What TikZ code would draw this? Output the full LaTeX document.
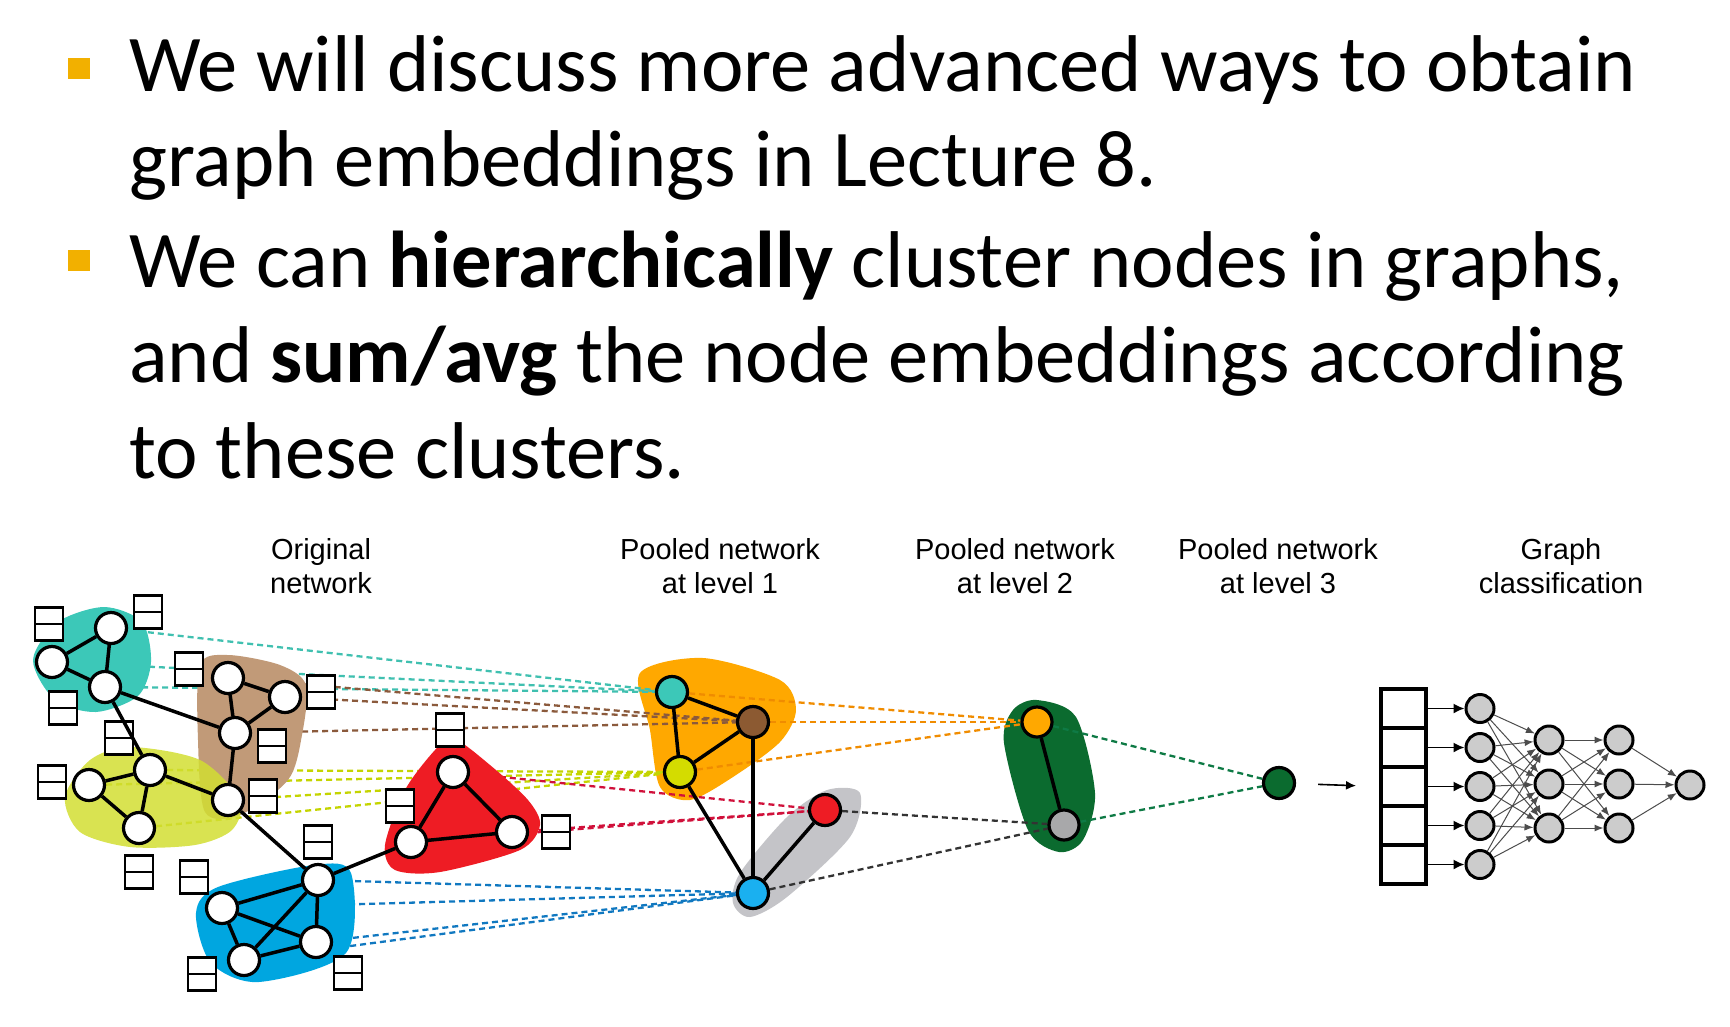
\documentclass[tikz,border=0pt]{standalone}
\usepackage{fontspec}
\setmainfont{Carlito}
\newfontfamily\arialfont{Liberation Sans}
\usetikzlibrary{arrows.meta}

\definecolor{bulletc}{HTML}{F2B000}
\definecolor{tealc}{HTML}{3CC8B8}
\definecolor{tanc}{HTML}{C19A78}
\definecolor{brownc}{HTML}{8C5A32}
\definecolor{limec}{HTML}{D2DE32}
\definecolor{limen}{HTML}{D4DC00}
\definecolor{redc}{HTML}{EE1C24}
\definecolor{bluec}{HTML}{00A6E0}
\definecolor{bluen}{HTML}{1AB0F0}
\definecolor{orangec}{HTML}{FFA800}
\definecolor{grayc}{HTML}{C4C4C8}
\definecolor{grayn}{HTML}{A8A8AA}
\definecolor{greenc}{HTML}{0B6B2F}
\definecolor{dteal}{HTML}{40C0B0}
\definecolor{dbrown}{HTML}{8B5A3C}
\definecolor{dlime}{HTML}{C4D400}
\definecolor{dred}{HTML}{D0103A}
\definecolor{dblue}{HTML}{1078C0}
\definecolor{dorange}{HTML}{F08C00}
\definecolor{ddark}{HTML}{333333}
\definecolor{dgreen}{HTML}{0E7A45}

\pgfdeclarelayer{back}
\pgfdeclarelayer{dash}
\pgfdeclarelayer{blob}
\pgfsetlayers{back,dash,blob,main}

\tikzset{
  vertex/.style={circle, draw, line width=3.2pt, fill=white, minimum size=31pt, inner sep=0pt},
  feat/.style={draw, line width=2.6pt, fill=white, minimum width=28pt, minimum height=33pt, inner sep=0pt,
    path picture={\draw[line width=2.6pt] (path picture bounding box.west) -- (path picture bounding box.east);}},
  edge/.style={line width=3.5pt},
  pline/.style={line width=2.3pt, dash pattern=on 6pt off 4pt},
  bulletbox/.style={fill=bulletc, minimum width=22pt, minimum height=21pt, inner sep=0pt},
  slide/.style={anchor=base west, inner sep=0pt, font=\fontsize{80.5}{96}\selectfont},
  caption/.style={align=center, inner sep=0pt, font=\arialfont\fontsize{29}{34}\selectfont},
  cell/.style={draw, line width=4pt, minimum width=45pt, minimum height=39pt, inner sep=0pt},
  neuron/.style={circle, draw, line width=3pt, fill=black!20, minimum size=28pt, inner sep=0pt},
  nnarrow/.style={-{Latex[length=9pt,width=7pt]}, line width=1pt, draw=black!70},
  inarrow/.style={-{Latex[length=11pt,width=10pt]}, line width=1.6pt}
}

\begin{document}
\begin{tikzpicture}[x=1pt, y=-1pt]
  \useasboundingbox (0,0) rectangle (1730,1026);

  % slide text
  \node[bulletbox] (bul1) at (79,68) {};
  \node[bulletbox] (bul2) at (79,260) {};
  \node[slide] (ln1) at (129,91) {We will discuss more advanced ways to obtain};
  \node[slide] (ln2) at (129,186) {graph embeddings in Lecture 8.};
  \node[slide] (ln3) at (129,287) {We can \textbf{hierarchically} cluster nodes in graphs,};
  \node[slide] (ln4) at (129,382) {and \textbf{sum/avg} the node embeddings according};
  \node[slide] (ln5) at (129,478) {to these clusters.};

  % captions
  \node[caption] (cap0) at (321,566) {Original\\network};
  \node[caption] (cap1) at (720,566) {Pooled network\\at level 1};
  \node[caption] (cap2) at (1015,566) {Pooled network\\at level 2};
  \node[caption] (cap3) at (1278,566) {Pooled network\\at level 3};
  \node[caption] (cap4) at (1561,566) {Graph\\classification};

  % original network
  \draw
    (111,628) node[vertex] (ot1){}
    (52,662) node[vertex] (ot2){}
    (105,687) node[vertex] (ot3){}
    (228,678) node[vertex] (ob1){}
    (285,697) node[vertex] (ob2){}
    (235,733) node[vertex] (ob3){}
    (150,770) node[vertex] (oy1){}
    (89,785) node[vertex] (oy2){}
    (139,828) node[vertex] (oy3){}
    (228,800) node[vertex] (oy4){}
    (318,880) node[vertex] (ou1){}
    (222,908) node[vertex] (ou2){}
    (316,942) node[vertex] (ou3){}
    (244,960) node[vertex] (ou4){}
    (453,772) node[vertex] (or1){}
    (411,842) node[vertex] (or2){}
    (512,832) node[vertex] (or3){};

  % node features
  \draw
    (49,624) node[feat] (f1){}
    (148,612) node[feat] (f2){}
    (189,669) node[feat] (f3){}
    (63,708) node[feat] (f4){}
    (321,692) node[feat] (f5){}
    (119,738) node[feat] (f6){}
    (272,746) node[feat] (f7){}
    (52,782) node[feat] (f8){}
    (263,796) node[feat] (f9){}
    (450,730) node[feat] (f10){}
    (400,806) node[feat] (f11){}
    (556,832) node[feat] (f12){}
    (318,842) node[feat] (f13){}
    (139,872) node[feat] (f14){}
    (194,877) node[feat] (f15){}
    (202,974) node[feat] (f16){}
    (348,973) node[feat] (f17){};

  % pooled networks
  \draw
    (672,692) node[vertex, fill=tealc] (pt){}
    (753,722) node[vertex, fill=brownc] (pb){}
    (680,772) node[vertex, fill=limen] (py){}
    (825,810) node[vertex, fill=redc] (pr){}
    (753,893) node[vertex, fill=bluen] (pu){}
    (1037,722) node[vertex, fill=orangec, minimum size=30pt] (qo){}
    (1064,825) node[vertex, fill=grayn, minimum size=30pt] (qg){}
    (1279,783) node[vertex, fill=greenc] (s){};

  \begin{scope}[edge]
    \draw (ot1) to (ot2);
    \draw (ot1) to (ot3);
    \draw (ot2) to (ot3);
    \draw (ot3) to (ob3);
    \draw (ot3) to (oy1);
    \draw (ob1) to (ob2);
    \draw (ob1) to (ob3);
    \draw (ob2) to (ob3);
    \draw (ob3) to (oy4);
    \draw (oy1) to (oy2);
    \draw (oy1) to (oy3);
    \draw (oy2) to (oy3);
    \draw (oy1) to (oy4);
    \draw (oy4) to (ou1);
    \draw (ou1) to (ou2);
    \draw (ou1) to (ou3);
    \draw (ou1) to (ou4);
    \draw (ou2) to (ou3);
    \draw (ou2) to (ou4);
    \draw (ou3) to (ou4);
    \draw (ou1) to (or2);
    \draw (or1) to (or2);
    \draw (or1) to (or3);
    \draw (or2) to (or3);
    \draw (pt) to (pb);
    \draw (pt) to (py);
    \draw (pb) to (py);
    \draw (py) to (pu);
    \draw (pb) to (pu);
    \draw (pr) to (pu);
    \draw (qo) to (qg);
  \end{scope}

  % cluster regions
  \begin{pgfonlayer}{back}
    \fill[orangec] plot[smooth cycle] coordinates {(640,673) (703,658) (780,680) (796,710) (780,742) (733,777) (690,800) (660,787) (650,730)};
    \fill[grayc] plot[smooth cycle] coordinates {(860,793) (850,837) (787,897) (750,917) (733,903) (740,873) (787,817) (827,790)};
    \fill[greenc] plot[smooth cycle] coordinates {(1037,700) (1076,717) (1095,793) (1083,840) (1059,852) (1028,830) (1004,743) (1013,710)};
  \end{pgfonlayer}
  \begin{pgfonlayer}{blob}
    \fill[tealc] plot[smooth cycle] coordinates {(33,660) (58,622) (104,607) (142,622) (151,662) (138,696) (96,712) (55,700)};
    \fill[tanc] plot[smooth cycle] coordinates {(200,665) (228,655) (280,665) (306,685) (302,735) (288,780) (240,815) (205,812) (198,740)};
    \fill[limec, opacity=0.85] plot[smooth cycle] coordinates {(65,797) (90,760) (130,747) (200,760) (240,800) (232,830) (195,845) (130,847) (80,832)};
    \fill[redc] plot[smooth cycle] coordinates {(453,738) (490,765) (528,800) (540,825) (520,850) (440,872) (395,870) (385,845) (405,790) (435,750)};
    \fill[bluec] plot[smooth cycle] coordinates {(196,913) (218,887) (314,865) (351,873) (346,953) (259,982) (211,963)};
  \end{pgfonlayer}

  % pooling lines
  \begin{pgfonlayer}{dash}
    \draw[pline, dteal] (ot1) -- (pt);
    \draw[pline, dteal] (ot2) -- (pt);
    \draw[pline, dteal] (ot3) -- (pt);
    \draw[pline, dbrown] (ob1) -- (pb);
    \draw[pline, dbrown] (ob2) -- (pb);
    \draw[pline, dbrown] (ob3) -- (pb);
    \draw[pline, dlime] (oy1) -- (py);
    \draw[pline, dlime] (oy2) -- (py);
    \draw[pline, dlime] (oy3) -- (py);
    \draw[pline, dlime] (oy4) -- (py);
    \draw[pline, dred] (or1) -- (pr);
    \draw[pline, dred] (or2) -- (pr);
    \draw[pline, dred] (or3) -- (pr);
    \draw[pline, dblue] (ou1) -- (pu);
    \draw[pline, dblue] (ou2) -- (pu);
    \draw[pline, dblue] (ou3) -- (pu);
    \draw[pline, dblue] (ou4) -- (pu);
    \draw[pline, dorange] (pt) -- (qo);
    \draw[pline, dorange] (pb) -- (qo);
    \draw[pline, dorange] (py) -- (qo);
    \draw[pline, ddark] (pr) -- (qg);
    \draw[pline, ddark] (pu) -- (qg);
    \draw[pline, dgreen] (qo) -- (s);
    \draw[pline, dgreen] (qg) -- (s);
  \end{pgfonlayer}

  % graph classification
  \draw
    (1403.5,708.5) node[cell] (v1){}
    (1403.5,747.5) node[cell] (v2){}
    (1403.5,786.5) node[cell] (v3){}
    (1403.5,825.5) node[cell] (v4){}
    (1403.5,864.5) node[cell] (v5){}
    (1480,708.5) node[neuron] (h1){}
    (1480,747.5) node[neuron] (h2){}
    (1480,786.5) node[neuron] (h3){}
    (1480,825.5) node[neuron] (h4){}
    (1480,864.5) node[neuron] (h5){}
    (1549,740) node[neuron] (k1){}
    (1549,784) node[neuron] (k2){}
    (1549,828) node[neuron] (k3){}
    (1619,740) node[neuron] (m1){}
    (1619,784) node[neuron] (m2){}
    (1619,828) node[neuron] (m3){}
    (1690,785) node[neuron] (out){};

  \draw[-{Latex[length=10pt,width=9pt]}, line width=1.6pt, shorten <=22pt, shorten >=23pt] (s) -- (v3.west);
  \draw[inarrow] (v1) -- (h1);
  \draw[inarrow] (v2) -- (h2);
  \draw[inarrow] (v3) -- (h3);
  \draw[inarrow] (v4) -- (h4);
  \draw[inarrow] (v5) -- (h5);
  \begin{scope}[nnarrow]
    \draw (h1) to (k1);
    \draw (h1) to (k2);
    \draw (h1) to (k3);
    \draw (h2) to (k1);
    \draw (h2) to (k2);
    \draw (h2) to (k3);
    \draw (h3) to (k1);
    \draw (h3) to (k2);
    \draw (h3) to (k3);
    \draw (h4) to (k1);
    \draw (h4) to (k2);
    \draw (h4) to (k3);
    \draw (h5) to (k1);
    \draw (h5) to (k2);
    \draw (h5) to (k3);
    \draw (k1) to (m1);
    \draw (k1) to (m2);
    \draw (k1) to (m3);
    \draw (k2) to (m1);
    \draw (k2) to (m2);
    \draw (k2) to (m3);
    \draw (k3) to (m1);
    \draw (k3) to (m2);
    \draw (k3) to (m3);
    \draw (m1) to (out);
    \draw (m2) to (out);
    \draw (m3) to (out);
  \end{scope}
\end{tikzpicture}
\end{document}
